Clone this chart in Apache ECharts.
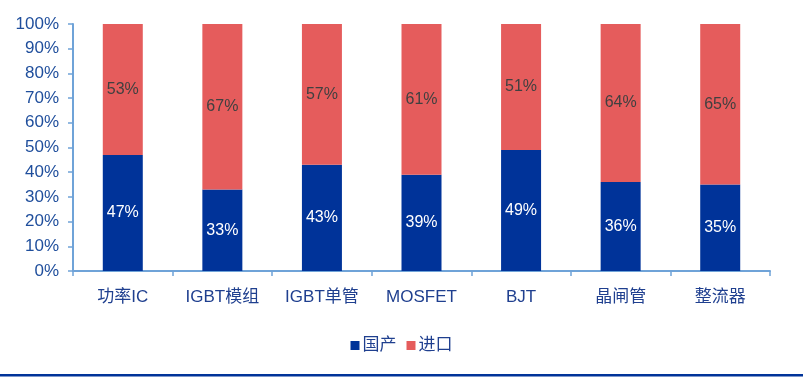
<!DOCTYPE html>
<html><head><meta charset="utf-8">
<script src="https://cdn.jsdelivr.net/npm/echarts@6/dist/echarts.min.js"></script>
<style>html,body{margin:0;padding:0;background:#fff}#c{width:803px;height:381px}</style>
</head><body><div id="c"></div>
<script>
const categories = ['功率IC','IGBT模组','IGBT单管','MOSFET','BJT','晶闸管','整流器'];
const domestic = [47,33,43,39,49,36,35];
const imported = [53,67,57,61,51,64,65];
const yTicks = [0,10,20,30,40,50,60,70,80,90,100];

const chart = echarts.init(document.getElementById('c'));
const font = 'Liberation Sans, Noto Sans CJK SC, sans-serif';
chart.setOption({
  animation:false,
  grid:{left:73,right:33,top:24,bottom:110,containLabel:false},
  legend:{
    data:['国产','进口'], top:332, left:'center', itemWidth:9, itemHeight:9, itemGap:10,
    icon:'rect',
    textStyle:{color:'#1f3f8f',fontSize:17,fontFamily:font,padding:[0,0,0,-2]}
  },
  xAxis:{
    type:'category', data:categories,
    axisLine:{lineStyle:{color:'#6fa3d8',width:2}},
    axisTick:{show:true,length:5,lineStyle:{color:'#6fa3d8',width:1.5}},
    axisLabel:{color:'#1f3f8f',fontSize:17,fontFamily:font,margin:18}
  },
  yAxis:{
    type:'value', min:0, max:100, interval:10,
    axisLine:{show:true,lineStyle:{color:'#6fa3d8',width:2}},
    axisTick:{show:true,length:5,lineStyle:{color:'#6fa3d8',width:1.5}},
    splitLine:{show:false},
    axisLabel:{color:'#1f4e9c',fontSize:17,fontFamily:font,margin:14,
      formatter:v=>yTicks.includes(v)?v+'%':''}
  },
  series:[
    {name:'国产',type:'bar',stack:'a',data:domestic,barWidth:40,
      itemStyle:{color:'#003399'},
      label:{show:true,position:'inside',formatter:'{c}%',color:'#ffffff',fontSize:16,fontFamily:font}},
    {name:'进口',type:'bar',stack:'a',data:imported,barWidth:40,
      itemStyle:{color:'#e55c5c'},
      label:{show:true,position:'inside',formatter:'{c}%',color:'#404040',fontSize:16,fontFamily:font}}
  ],
  graphic:[{type:'rect',shape:{x:0,y:374,width:803,height:2.5},style:{fill:'#003399'}}]
});
</script></body></html>
